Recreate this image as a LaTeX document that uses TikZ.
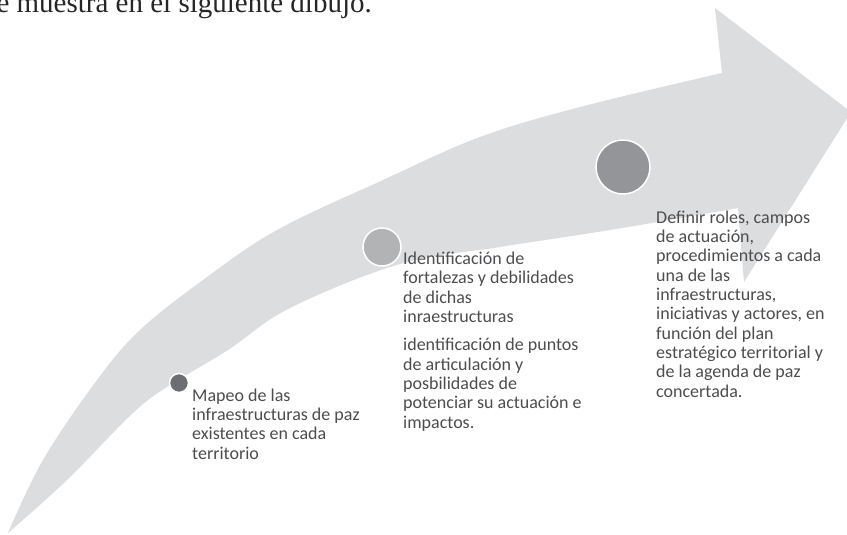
\documentclass[tikz,border=0pt]{standalone}
\usepackage{fontspec}
\setmainfont{Carlito}
\newfontfamily\serifa{Liberation Serif}
\definecolor{bandgray}{HTML}{DCDDDF}
\definecolor{dotdark}{HTML}{6D6E71}
\definecolor{dotlight}{HTML}{B2B3B5}
\definecolor{dotmid}{HTML}{939598}
\definecolor{txtgray}{HTML}{4D4D4F}
\tikzset{
  dot/.style={circle, draw=white, line width=1.5pt, inner sep=0pt},
  txt/.style={align=left, inner sep=0pt, text=txtgray, font=\fontsize{18}{19.3}\selectfont},
}
\begin{document}
\begin{tikzpicture}[x=1pt,y=-1pt]
\clip (0,0) rectangle (847,535);
\fill[white] (0,0) rectangle (847,535);
\fill[bandgray] plot[smooth,tension=0.6] coordinates {(8,533) (43,460) (97,380) (140,330) (203,280) (277,230) (383,180) (480,137) (580,107) (722,73)}
  -- (715,8) -- (851,112) -- (744,282)
  -- plot[smooth,tension=0.6] coordinates {(738,208) (610,230) (500,247) (400,264) (290,308) (228,350) (170,385) (133,413) (67,480) (8,533)} -- cycle;
\node[dot, fill=dotdark, minimum size=19pt] (s1) at (179,383) {};
\node[dot, fill=dotlight, minimum size=38pt] (s2) at (382,247) {};
\node[dot, fill=dotmid, minimum size=54pt] (s3) at (623,167) {};
% anchor = baseline of the last line
\node[txt, anchor=base west] (t1) at (192,459) {Mapeo de las\\infraestructuras de paz\\existentes en cada\\territorio};
\node[txt, anchor=base west] (t2) at (403,428) {Identificación de\\fortalezas y debilidades\\de dichas\\inraestructuras\\[9pt]identificación de puntos\\de articulación y\\posbilidades de\\potenciar su actuación e\\impactos.};
\node[txt, anchor=base west] (t3) at (656,397) {Definir roles, campos\\de actuación,\\procedimientos a cada\\una de las\\infraestructuras,\\iniciativas y actores, en\\función del plan\\estratégico territorial y\\de la agenda de paz\\concertada.};
\node[anchor=base east, inner sep=0pt, text=black!85, font=\serifa\fontsize{29}{34}\selectfont] (top) at (372,13) {se muestra en el siguiente dibujo.};
\end{tikzpicture}
\end{document}
